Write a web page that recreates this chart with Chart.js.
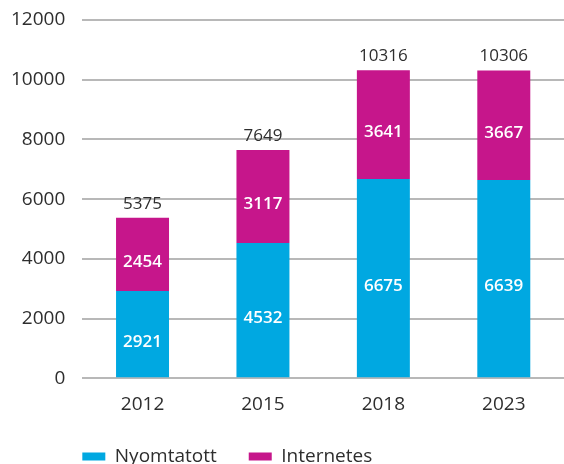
<!DOCTYPE html>
<html>
<head>
<meta charset="utf-8">
<script src="https://cdn.jsdelivr.net/npm/chart.js@4/dist/chart.umd.min.js"></script>
<style>
  html, body { margin: 0; padding: 0; background: #fff; }
  .wrap { width: 564px; height: 464px; }
</style>
</head>
<body>
<div class="wrap"><canvas id="chart" width="564" height="464"></canvas></div>
<script>
// adatok
const years = ['2012', '2015', '2018', '2023']
const printed = [2921, 4532, 6675, 6639]
const online = [2454, 3117, 3641, 3667]
const yTicks = [0, 2000, 4000, 6000, 8000, 10000, 12000]

const blue = '#00a8e1'
const magenta = '#c6168b'
const txt = '#2e2e2e'
const font = "'Open Sans', sans-serif"

// szamok a oszlopokon + osszeg felul
const barLabels = {
  id: 'barLabels',
  afterDatasetsDraw(chart) {
    const ctx = chart.ctx
    ctx.save()
    ctx.textAlign = 'center'
    ctx.textBaseline = 'middle'
    chart.data.datasets.forEach(function (ds, di) {
      const meta = chart.getDatasetMeta(di)
      meta.data.forEach(function (bar, i) {
        ctx.fillStyle = '#fff'
        ctx.font = '600 17px ' + font
        ctx.fillText(ds.data[i], bar.x, (bar.y + bar.base) / 2 + 8)
      })
    })
    // totals
    const last = chart.getDatasetMeta(chart.data.datasets.length - 1)
    last.data.forEach(function (bar, i) {
      const total = printed[i] + online[i]
      ctx.fillStyle = txt
      ctx.font = '400 17px ' + font
      ctx.fillText(total, bar.x, bar.y - 14)
    })
    ctx.restore()
  },
  afterLayout(chart) {
    // legend a plot bal szelehez igazitva
    const lg = chart.legend
    if (!lg) return
    const pad = lg.options.labels.padding
    lg.left = chart.chartArea.left - pad
    lg.top = 458 - pad - 11
  },
}

new Chart(document.getElementById('chart'), {
  type: 'bar',
  data: {
    labels: years,
    datasets: [
      {
        label: 'Nyomtatott',
        data: printed,
        backgroundColor: blue,
        borderWidth: 0,
        barPercentage: 0.44,
        categoryPercentage: 1,
      },
      {
        label: 'Internetes',
        data: online,
        backgroundColor: magenta,
        borderWidth: 0,
        barPercentage: 0.44,
        categoryPercentage: 1,
      },
    ],
  },
  options: {
    responsive: false,
    animation: false,
    layout: { padding: { left: -6, right: 0, top: 20, bottom: -20 } },
    plugins: {
      tooltip: { enabled: false },
      legend: {
        position: 'bottom',
        align: 'start',
        labels: {
          boxWidth: 23,
          boxHeight: 8,
          padding: 32,
          color: txt,
          font: { family: font, size: 19 },
        },
      },
    },
    scales: {
      x: {
        stacked: true,
        grid: { display: false },
        border: { display: false },
        ticks: { color: txt, padding: 7, font: { family: font, size: 19 } },
      },
      y: {
        stacked: true,
        min: 0,
        max: 12000,
        afterBuildTicks(axis) {
          axis.ticks = yTicks.map(function (v) { return { value: v } })
        },
        afterFit(axis) {
          axis.paddingTop = 0
          axis.paddingBottom = 0
        },
        grid: { color: '#b8b8b8', lineWidth: 2, drawTicks: false },
        border: { display: false },
        ticks: {
          color: txt,
          padding: 17,
          font: { family: font, size: 19 },
          callback: function (v) { return String(v) },
        },
      },
    },
  },
  plugins: [barLabels],
})
</script>
</body>
</html>
